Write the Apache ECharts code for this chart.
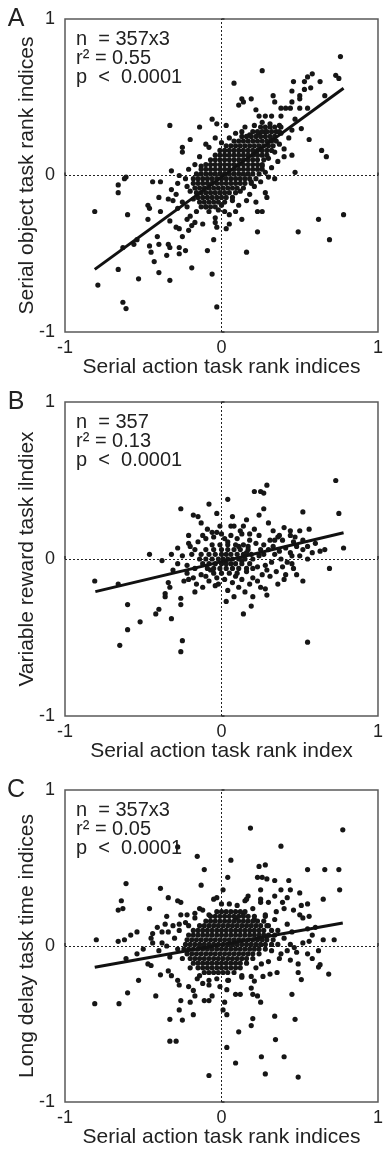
<!DOCTYPE html>
<html><head><meta charset="utf-8">
<script src="https://cdn.jsdelivr.net/npm/echarts@6/dist/echarts.min.js"></script>
<style>html,body{margin:0;padding:0;background:#fff}#c{width:386px;height:1149px}</style>
</head><body><div id="c"></div>
<script>
var axisTicks = [-1, 0, 1];
var panelLetters = ['A', 'B', 'C'];
var xNames = ['Serial action task rank indices', 'Serial action task rank index', 'Serial action task rank indices'];
var yNames = ['Serial object task rank indices', 'Variable reward task ilndiex', 'Long delay task time indices'];
var statsN = ['n  = 357x3', 'n  = 357', 'n  = 357x3'];
var statsR2 = ['r\u00b2 = 0.55', 'r\u00b2 = 0.13', 'r\u00b2 = 0.05'];
var statsP = ['p  <  0.0001', 'p  <  0.0001', 'p  <  0.0001'];

// regression line end points
var fitA = [[-0.81, -0.60], [0.78, 0.557]];
var fitB = [[-0.806, -0.208], [0.78, 0.167]];
var fitC = [[-0.81, -0.136], [0.775, 0.147]];

// Panel A scattered points
var outA = [
[0.76,0.76],[0.26,0.67],[0.08,0.59],[0.58,0.65],[0.55,0.63],[0.53,0.60],[0.46,0.60],[0.63,0.60],[0.73,0.64],[0.75,0.62],
[0.57,0.56],[0.53,0.55],[0.45,0.54],[0.50,0.51],[0.66,0.51],[0.33,0.51],[0.13,0.49],[0.19,0.49],[0.14,0.47],[0.34,0.47],
[0.45,0.47],[0.50,0.49],[0.38,0.43],[0.41,0.43],[0.44,0.43],[0.50,0.43],[0.55,0.43],[0.11,0.45],[0.22,0.42],[0.24,0.38],
[0.28,0.38],[0.32,0.38],[0.38,0.38],[0.47,0.36],[-0.33,0.32],[-0.14,0.31],[-0.06,0.36],[-0.03,0.33],[0.03,0.32],[0.15,0.31],
[0.21,0.32],[0.26,0.34],[0.31,0.33],[0.37,0.32],[0.45,0.29],[0.51,0.30],[0.56,0.23],[0.43,0.24],[0.38,0.27],[-0.20,0.23],
[-0.25,0.18],[-0.25,0.15],[-0.10,0.20],[-0.08,0.18],[-0.04,0.24],[0.00,0.21],[0.05,0.24],[0.09,0.27],[0.13,0.28],[0.18,0.26],
[0.24,0.27],[0.28,0.28],[0.32,0.23],[0.37,0.20],[0.40,0.17],[0.45,0.13],[0.34,0.15],[0.30,0.11],[0.26,0.06],[0.47,0.02],
[0.64,0.16],[0.67,0.12],[-0.14,0.12],[-0.17,0.07],[-0.13,0.06],[-0.32,0.03],[-0.27,0.00],[-0.61,-0.01],
[-0.62,-0.02],[-0.44,-0.04],[-0.39,-0.04],[-0.66,-0.06],[-0.66,-0.11],[-0.81,-0.23],[-0.60,-0.25],[-0.47,-0.19],[-0.46,-0.21],[-0.40,-0.14],
[-0.39,-0.23],[-0.47,-0.28],[-0.34,-0.15],[-0.31,-0.16],[-0.32,-0.09],[-0.28,-0.05],[-0.29,-0.12],[-0.25,-0.17],[-0.22,-0.20],[-0.22,-0.07],
[-0.28,-0.21],[-0.33,-0.29],[-0.29,-0.33],[-0.27,-0.34],[-0.25,-0.39],[-0.21,-0.35],[-0.19,-0.32],[-0.22,-0.28],[-0.17,-0.30],[-0.16,-0.23],
[-0.20,-0.26],[-0.12,-0.31],[-0.08,-0.23],[-0.04,-0.27],[-0.02,-0.22],[-0.04,-0.30],[-0.05,-0.41],[-0.09,-0.48],[-0.03,-0.33],[-0.41,-0.39],
[-0.40,-0.44],[-0.46,-0.45],[-0.45,-0.49],[-0.34,-0.44],[-0.33,-0.46],[-0.35,-0.51],[-0.27,-0.50],[-0.27,-0.46],[-0.23,-0.48],[-0.54,-0.41],
[-0.56,-0.44],[-0.63,-0.46],[-0.43,-0.55],[-0.66,-0.60],[-0.53,-0.66],[-0.40,-0.62],[-0.33,-0.67],[-0.19,-0.59],[-0.06,-0.63],[-0.79,-0.70],
[-0.63,-0.81],[-0.61,-0.85],[-0.03,-0.84],[0.02,-0.23],[0.05,-0.25],[0.03,-0.34],[0.05,-0.31],[0.09,-0.23],[0.13,-0.28],[0.11,-0.19],
[0.16,-0.16],[0.18,-0.12],[0.22,-0.17],[0.23,-0.23],[0.26,-0.23],[0.28,-0.11],[0.29,-0.14],[0.23,-0.36],[0.16,-0.49],[0.49,-0.36],
[0.62,-0.28],[0.69,-0.41],[0.78,-0.25],[0.34,-0.02],[0.30,-0.01],[0.19,-0.04],[0.28,0.02],[0.32,0.05],[0.36,0.09],[0.40,0.12],
[-0.21,0.04],[-0.23,-0.02],[-0.20,-0.10],[-0.18,-0.15],[-0.10,-0.20],[0.00,-0.19],[0.07,-0.16],[0.12,-0.10],[0.21,-0.07],[0.25,-0.04]
];
// Panel A dense core: rows of [y, x values]
var coreA = [
[0.31,[0.25,0.28,0.31,0.34,0.38]],
[0.28,[0.20,0.23,0.26,0.29,0.32,0.35,0.37]],
[0.25,[0.13,0.16,0.19,0.22,0.25,0.28,0.31,0.34]],
[0.22,[0.08,0.11,0.14,0.17,0.20,0.23,0.26,0.29,0.32,0.35]],
[0.19,[0.03,0.06,0.09,0.12,0.15,0.18,0.21,0.24,0.27,0.30,0.33]],
[0.16,[-0.01,0.02,0.05,0.08,0.11,0.14,0.17,0.20,0.23,0.26,0.29,0.32]],
[0.13,[-0.04,-0.01,0.02,0.05,0.08,0.11,0.14,0.17,0.20,0.23,0.26,0.29]],
[0.10,[-0.07,-0.04,-0.01,0.02,0.05,0.08,0.11,0.14,0.17,0.20,0.23,0.27]],
[0.07,[-0.10,-0.07,-0.04,-0.01,0.02,0.05,0.08,0.11,0.14,0.17,0.20,0.23,0.26]],
[0.04,[-0.13,-0.10,-0.07,-0.04,-0.01,0.02,0.05,0.08,0.11,0.14,0.17,0.20,0.23,0.26]],
[0.01,[-0.16,-0.13,-0.10,-0.07,-0.04,-0.01,0.02,0.05,0.08,0.11,0.14,0.17,0.20,0.24]],
[-0.02,[-0.18,-0.15,-0.12,-0.09,-0.06,-0.03,0.00,0.03,0.06,0.09,0.12,0.15,0.18,0.22]],
[-0.05,[-0.18,-0.15,-0.12,-0.09,-0.06,-0.03,0.00,0.03,0.06,0.09,0.12,0.15,0.19]],
[-0.08,[-0.17,-0.14,-0.11,-0.08,-0.05,-0.02,0.01,0.04,0.07,0.10,0.14]],
[-0.11,[-0.16,-0.13,-0.10,-0.07,-0.04,-0.01,0.02,0.05,0.09]],
[-0.14,[-0.15,-0.12,-0.09,-0.06,-0.03,0.00,0.03,0.07]],
[-0.17,[-0.14,-0.11,-0.08,-0.05,-0.02,0.02]],
[-0.20,[-0.13,-0.10,-0.07,-0.04]]
];

// Panel B scattered points
var outB = [
[0.73,0.50],[0.75,0.29],[0.78,0.07],[0.69,-0.06],[0.55,-0.53],[0.52,0.30],[0.52,-0.14],[0.56,0.19],[0.29,0.47],[0.25,0.43],
[0.27,0.42],[0.21,0.43],[0.27,0.32],[0.24,0.28],[0.21,0.19],[0.04,0.38],[-0.08,0.35],[-0.03,0.29],[-0.26,0.32],[-0.18,0.28],
[-0.15,0.27],[-0.13,0.23],[0.07,0.27],[0.06,0.21],[0.08,0.21],[0.14,0.21],[0.13,0.16],[0.16,0.25],[0.30,0.23],[0.33,0.18],
[0.40,0.20],[0.44,0.18],[0.50,0.18],[0.44,0.15],[0.36,0.14],[0.31,0.12],[0.39,0.12],[0.46,0.11],[0.52,0.12],[0.58,0.04],
[0.63,0.05],[0.66,0.06],[0.50,0.02],[0.55,0.00],[0.45,0.02],[0.38,0.00],[0.46,-0.06],[0.41,-0.10],[0.36,-0.16],[0.31,-0.11],
[0.28,-0.19],[0.29,-0.23],[0.25,-0.18],[0.20,-0.24],[0.15,-0.21],[0.19,-0.30],[0.14,-0.35],[0.08,-0.24],[0.03,-0.27],[0.04,-0.20],
[0.11,-0.18],[-0.02,-0.16],[-0.04,-0.17],[-0.12,-0.18],[-0.17,-0.21],[-0.16,-0.16],[-0.22,-0.09],[-0.26,-0.25],[-0.26,-0.29],[-0.33,-0.18],
[-0.34,-0.15],[-0.36,-0.22],[-0.36,-0.24],[-0.31,-0.07],[-0.28,0.07],[-0.32,0.03],[-0.38,-0.01],[-0.46,0.03],[-0.21,0.15],[-0.21,0.10],
[-0.17,0.06],[-0.12,0.15],[-0.06,0.17],[-0.03,0.17],[0.02,0.13],[0.04,0.11],[-0.81,-0.14],[-0.66,-0.16],[-0.60,-0.29],[-0.52,-0.40],
[-0.60,-0.45],[-0.65,-0.55],[-0.42,-0.35],[-0.40,-0.32],[-0.32,-0.38],[-0.25,-0.52],[-0.26,-0.59],[-0.21,-0.13],[-0.10,-0.11],[-0.07,-0.07],
[0.09,-0.11],[0.16,-0.08],[0.20,-0.12],[0.23,-0.05],[0.28,-0.04],[0.34,0.03],[0.25,0.06],[0.17,0.08],[0.11,0.08],
[-0.25,0.02],[-0.22,-0.04],[-0.19,0.03],[-0.17,-0.06],[-0.20,0.08],[-0.15,0.11],[-0.10,0.13],[-0.05,0.14],[0.00,0.16],[0.06,0.15],
[0.10,0.13],[0.18,0.12],[0.22,0.10],[0.27,0.09],[0.30,0.06],[0.33,0.08],[0.37,0.05],[0.41,0.07],[0.44,0.04],[0.48,0.08],
[0.52,0.06],[0.42,-0.02],[0.39,-0.05],[0.35,-0.08],[0.32,-0.02],[0.29,-0.07],[0.26,-0.10],[0.23,-0.14],[0.18,-0.16],[0.13,-0.13],
[0.07,-0.15],[0.02,-0.13],[-0.03,-0.12],[-0.08,-0.14],[-0.13,-0.10],[-0.18,-0.12],[-0.24,-0.14],[-0.28,-0.03],[0.24,0.02],[0.27,0.03],
[0.20,-0.06],[0.45,-0.03],[0.48,-0.10],[0.40,-0.13],[0.55,0.08],[0.60,0.10],[0.34,0.12],[0.12,0.18],[-0.01,0.21],[-0.09,0.19],
[0.18,0.16],[0.24,0.15],[0.37,0.15],[0.47,0.14],[0.13,-0.01],[0.16,0.04]
];
var coreB = [
[0.09,[-0.06,-0.01,0.04,0.09,0.14]],
[0.06,[-0.10,-0.05,0.00,0.04,0.08,0.12,0.17]],
[0.03,[-0.13,-0.08,-0.04,0.00,0.03,0.06,0.10,0.14,0.19]],
[0.00,[-0.14,-0.10,-0.06,-0.02,0.01,0.04,0.07,0.11,0.15,0.20]],
[-0.03,[-0.12,-0.08,-0.04,0.00,0.03,0.06,0.09,0.13,0.18]],
[-0.06,[-0.09,-0.05,-0.01,0.03,0.07,0.11,0.16]],
[-0.09,[-0.05,0.00,0.05,0.10]]
];

// Panel C scattered points
var outC = [
[0.185,0.756],[0.775,0.745],[0.38,0.64],[-0.155,0.575],[-0.28,0.635],[0.06,0.55],[-0.11,0.49],[0.24,0.51],[0.28,0.52],[0.55,0.49],
[0.66,0.49],[0.75,0.49],[0.755,0.36],[0.65,0.30],[0.04,0.44],[-0.13,0.39],[-0.61,0.40],[-0.39,0.37],[-0.34,0.31],[-0.28,0.29],
[-0.26,0.28],[-0.64,0.29],[-0.66,0.23],[-0.63,0.24],[-0.46,0.24],[-0.35,0.19],[-0.26,0.20],[-0.22,0.20],[-0.17,0.21],[-0.14,0.24],
[-0.08,0.20],[-0.03,0.31],[0.01,0.36],[0.05,0.27],[0.23,0.44],[0.26,0.44],[0.29,0.43],[0.34,0.42],[0.43,0.42],[0.25,0.36],
[0.38,0.36],[0.44,0.36],[0.50,0.34],[0.34,0.32],[0.42,0.31],[0.25,0.30],[0.17,0.32],[0.15,0.29],[0.30,0.28],[0.39,0.28],
[0.55,0.27],[0.51,0.26],[0.56,0.19],[0.50,0.20],[0.46,0.23],[0.40,0.24],[-0.80,0.04],[-0.66,0.03],[-0.62,0.04],[-0.58,0.07],
[-0.54,0.09],[-0.44,0.08],[-0.41,0.12],[-0.38,0.09],[-0.34,0.09],[-0.31,0.13],[-0.44,0.02],[-0.38,0.02],[-0.27,0.14],[-0.21,0.13],
[0.55,0.11],[0.58,0.07],[0.56,0.03],[0.65,0.04],[0.72,0.04],[0.44,0.01],[0.36,0.01],[0.30,0.13],[0.34,0.17],[0.21,0.17],
[0.14,0.21],[0.09,0.18],[0.28,0.19],
[-0.81,-0.37],[-0.655,-0.37],[-0.60,-0.30],[-0.53,-0.22],[-0.42,-0.32],[-0.39,-0.185],[-0.61,-0.08],[-0.54,-0.05],[-0.47,-0.115],[-0.45,-0.125],
[-0.34,-0.16],[-0.32,-0.19],[-0.28,-0.22],[-0.27,-0.25],[-0.21,-0.26],[-0.18,-0.285],[-0.17,-0.32],[-0.20,-0.36],[-0.26,-0.35],[-0.27,-0.41],
[-0.33,-0.47],[-0.25,-0.475],[-0.18,-0.44],[-0.33,-0.61],[-0.29,-0.61],[-0.08,-0.83],[-0.11,-0.35],[-0.08,-0.35],[-0.06,-0.32],[-0.08,-0.25],
[-0.12,-0.24],[-0.155,-0.21],[-0.01,-0.26],[0.02,-0.36],[0.01,-0.41],[0.034,-0.44],[0.034,-0.65],[0.09,-0.75],[0.11,-0.55],[0.09,-0.31],
[0.12,-0.31],[0.20,-0.31],[0.19,-0.27],[0.23,-0.32],[0.25,-0.36],[0.20,-0.465],[0.19,-0.51],[0.255,-0.71],[0.28,-0.82],[0.34,-0.45],
[0.345,-0.60],[0.40,-0.71],[0.47,-0.47],[0.49,-0.84],[0.45,-0.31],[0.51,-0.215],[0.49,-0.17],[0.49,-0.115],[0.62,-0.135],[0.63,-0.12],
[0.685,-0.18],[0.58,-0.08],[0.55,-0.05],[0.44,-0.09],[0.37,-0.08],[0.355,-0.17],[0.31,-0.18],[0.265,-0.195],[0.21,-0.225],[0.19,-0.195],
[0.13,-0.20],[0.045,-0.22],[0.034,-0.28],[-0.03,-0.21],[0.255,-0.115],[0.32,-0.03],[0.42,-0.03],[0.465,-0.01],
[-0.30,0.05],[-0.28,-0.02],[-0.27,0.10],[-0.25,-0.08],[-0.23,0.15],[-0.20,-0.14],[-0.17,0.18],[-0.14,-0.19],[-0.12,0.23],[-0.08,-0.22],
[0.00,0.27],[0.04,-0.22],[0.10,0.26],[0.13,-0.19],[0.20,0.24],[0.22,-0.14],[0.28,0.20],[0.30,-0.10],[0.36,0.10],[0.38,-0.05],
[0.40,0.05],[0.42,0.14],[0.45,0.09],[0.48,-0.04],[0.52,0.02],[0.35,0.22],[0.25,0.28],[0.16,0.30],[-0.05,0.30],[-0.35,0.00],
[-0.33,-0.07],[-0.40,-0.03],[-0.45,0.05],[-0.50,-0.02],[-0.36,0.14],[0.60,0.12],[0.62,-0.03],[0.52,0.18]
];
var coreC = [
[0.22,[-0.03,0.00,0.03,0.06,0.09,0.12,0.15]],
[0.19,[-0.07,-0.04,-0.01,0.02,0.05,0.08,0.11,0.14,0.17,0.21]],
[0.16,[-0.10,-0.07,-0.04,-0.01,0.02,0.05,0.08,0.11,0.14,0.17,0.20,0.23,0.27]],
[0.13,[-0.14,-0.11,-0.08,-0.05,-0.02,0.01,0.04,0.07,0.10,0.13,0.16,0.19,0.22,0.25,0.29]],
[0.10,[-0.18,-0.15,-0.12,-0.09,-0.06,-0.03,0.00,0.03,0.06,0.09,0.12,0.15,0.18,0.21,0.24,0.27,0.32]],
[0.07,[-0.21,-0.18,-0.15,-0.12,-0.09,-0.06,-0.03,0.00,0.03,0.06,0.09,0.12,0.15,0.18,0.21,0.24,0.27,0.30,0.34]],
[0.04,[-0.22,-0.19,-0.16,-0.13,-0.10,-0.07,-0.04,-0.01,0.02,0.05,0.08,0.11,0.14,0.17,0.20,0.23,0.26,0.29,0.33]],
[0.01,[-0.23,-0.20,-0.17,-0.14,-0.11,-0.08,-0.05,-0.02,0.01,0.04,0.07,0.10,0.13,0.16,0.19,0.22,0.25,0.28,0.32]],
[-0.02,[-0.24,-0.21,-0.18,-0.15,-0.12,-0.09,-0.06,-0.03,0.00,0.03,0.06,0.09,0.12,0.15,0.18,0.21,0.24,0.28]],
[-0.05,[-0.22,-0.19,-0.16,-0.13,-0.10,-0.07,-0.04,-0.01,0.02,0.05,0.08,0.11,0.14,0.17,0.20,0.24]],
[-0.08,[-0.20,-0.17,-0.14,-0.11,-0.08,-0.05,-0.02,0.01,0.04,0.07,0.10,0.13,0.16,0.20]],
[-0.11,[-0.18,-0.15,-0.12,-0.09,-0.06,-0.03,0.00,0.03,0.06,0.09,0.12,0.16]],
[-0.14,[-0.15,-0.12,-0.09,-0.06,-0.03,0.00,0.03,0.06,0.09,0.12]],
[-0.17,[-0.11,-0.08,-0.05,-0.02,0.01,0.04,0.08]]
];

function build(out, core) {
  var pts = out.slice();
  core.forEach(function (r) { r[1].forEach(function (x) { pts.push([x, r[0]]); }); });
  return pts;
}
var scatterData = [build(outA, coreA), build(outB, coreB), build(outC, coreC)];
var fits = [fitA, fitB, fitC];

var FONT = '"Liberation Sans", Arial, sans-serif';
var gridTops = [19, 402, 790];
var gridH = [313, 314, 314];
var grids = [], xAxes = [], yAxes = [], series = [], graphics = [];
for (var i = 0; i < 3; i++) {
  grids.push({left: 65, top: gridTops[i], width: 317, height: gridH[i], show: true,
    borderColor: '#5a5a5a', borderWidth: 1.5, backgroundColor: 'transparent'});
  var common = {gridIndex: i, type: 'value', min: axisTicks[0], max: axisTicks[2], interval: 1,
    axisLine: {show: false}, splitLine: {show: false}, nameMoveOverlap: false,
    axisTick: {show: true, inside: true, length: 3, lineStyle: {color: '#333', width: 1.5}},
    nameLocation: 'middle', nameTextStyle: {fontSize: 21, color: '#222', fontFamily: FONT}};
  xAxes.push(Object.assign({}, common, {name: xNames[i], nameGap: 25,
    axisLabel: {fontSize: 18, color: '#222', fontFamily: FONT, margin: 7}}));
  yAxes.push(Object.assign({}, common, {name: yNames[i], nameGap: 27,
    axisLabel: {fontSize: 18, color: '#222', fontFamily: FONT, margin: 10}}));
  series.push({type: 'scatter', xAxisIndex: i, yAxisIndex: i, data: scatterData[i],
    symbolSize: 5.2, itemStyle: {color: '#161616', opacity: 1}, z: 3,
    markLine: {silent: true, symbol: 'none', animation: false, label: {show: false},
      lineStyle: {type: [2, 2], color: '#222', width: 1}, data: [{xAxis: 0}, {yAxis: 0}], z: 2}});
  series.push({type: 'line', xAxisIndex: i, yAxisIndex: i, data: fits[i], symbol: 'none',
    lineStyle: {color: '#111', width: 3}, z: 4});
  var t = gridTops[i];
  graphics.push({type: 'text', x: 16, y: t, style: {text: panelLetters[i], font: '25px ' + FONT, fill: '#222', textAlign: 'center', textVerticalAlign: 'middle'}});
  graphics.push({type: 'text', x: 76, y: t + 20, style: {text: statsN[i], font: '20px ' + FONT, fill: '#222', textAlign: 'left', textVerticalAlign: 'middle'}});
  graphics.push({type: 'text', x: 76, y: t + 39, style: {text: statsR2[i], font: '20px ' + FONT, fill: '#222', textAlign: 'left', textVerticalAlign: 'middle'}});
  graphics.push({type: 'text', x: 76, y: t + 58, style: {text: statsP[i], font: '20px ' + FONT, fill: '#222', textAlign: 'left', textVerticalAlign: 'middle'}});
}
var chart = echarts.init(document.getElementById('c'));
chart.setOption({animation: false, grid: grids, xAxis: xAxes, yAxis: yAxes, series: series, graphic: graphics});
</script></body></html>
